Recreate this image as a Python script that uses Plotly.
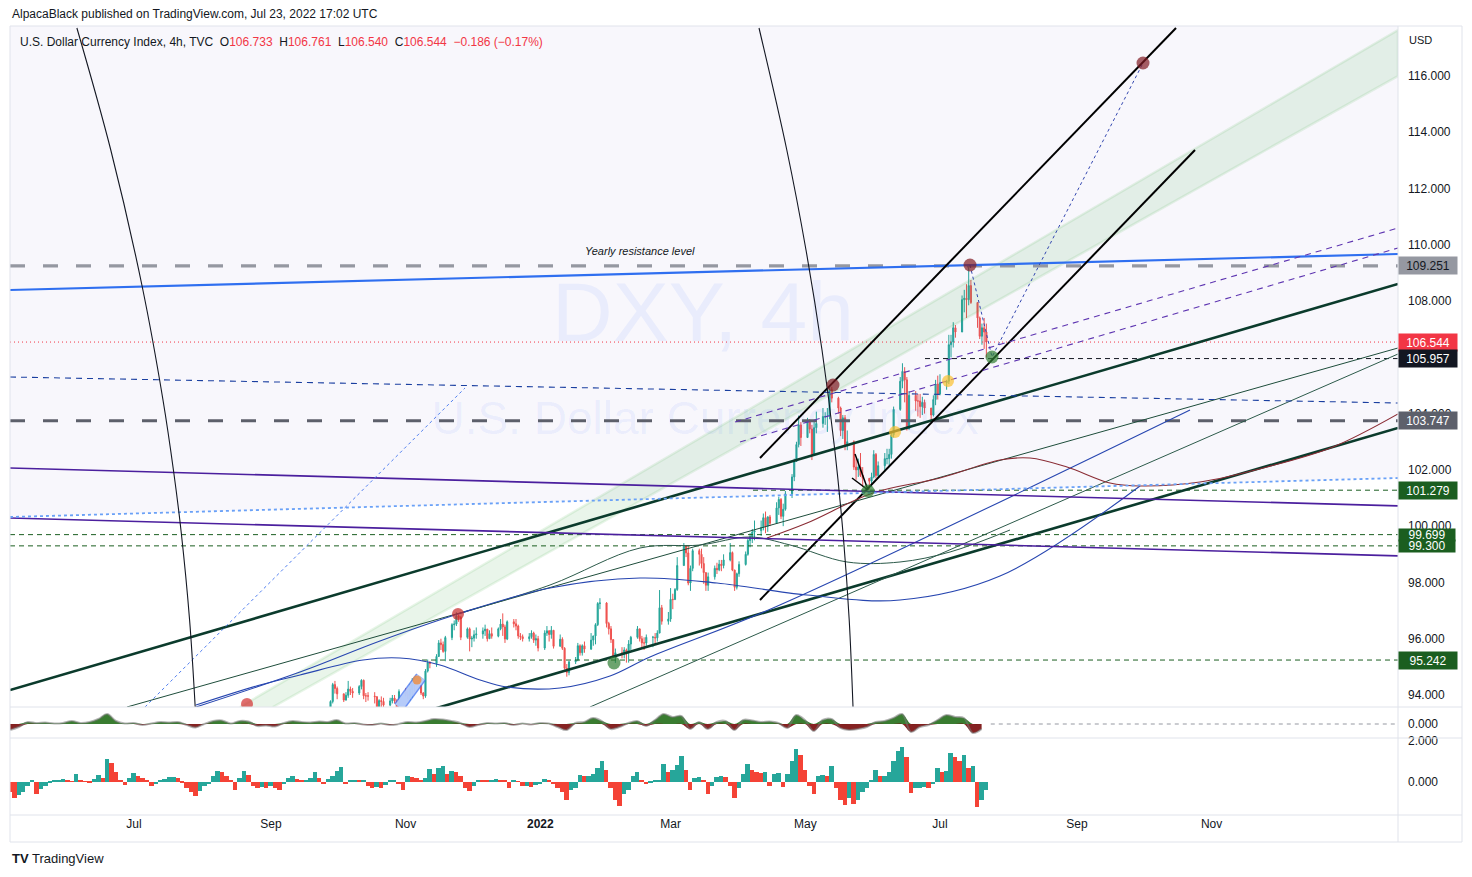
import plotly.graph_objects as go
import pandas as pd

BASE = pd.Timestamp("2021-07-01")
X_LEFT, X_RIGHT = -56.15, 572.41          # days from BASE at pane edges
Y_LOW, Y_HIGH = 93.573, 117.777

# ---------------- candle data (daily, Mon-Fri, from 2021-09-27) ----------------
candle_start = "2021-09-27"
close = [
    93.36, 93.77, 94.37, 94.23, 94.04,  93.82, 93.99, 94.21, 94.13, 94.07,
    94.30, 94.52, 93.97, 93.97, 93.96,  93.94, 93.55, 93.80, 93.77, 93.64,
    93.79, 93.89, 93.79, 93.32, 94.12,  94.03, 93.98, 94.20, 94.40, 94.34,
    94.07, 93.96, 94.85, 95.15, 95.12,  95.37, 95.85, 95.79, 95.55, 96.04,
    96.50, 96.52, 96.80, 96.76, 96.05,  96.35, 95.99, 96.02, 96.14, 96.17,
    96.28, 96.34, 96.00, 96.18, 96.09,  96.35, 96.52, 96.42, 95.99, 96.60,
    96.53, 96.45, 96.10, 96.07, 96.00,  96.07, 96.20, 95.95, 96.00, 95.67,
    96.20, 96.28, 96.15, 96.30, 95.73,  95.98, 95.66, 94.95, 94.80, 95.18,
    95.25, 95.75, 95.50, 95.75, 95.63,  95.95, 96.10, 96.50, 97.25, 97.27,
    96.54, 96.35, 95.97, 95.39, 95.50,  95.45, 95.60, 95.53, 95.81, 96.05,
    96.35, 96.00, 95.85, 95.85, 96.05,  96.05, 96.03, 96.20, 97.10, 96.62,
    96.70, 97.40, 97.39, 97.75, 98.60,  99.30, 99.05, 97.98, 98.50, 99.13,
    99.00, 98.67, 98.35, 97.90, 98.20,  98.50, 98.45, 98.65, 98.60, 98.80,
    99.06, 98.44, 97.83, 98.31, 98.64,  99.00, 99.49, 99.62, 99.79, 99.84,
    99.95, 100.30, 100.00, 100.33, 100.10,  100.65, 100.95, 100.35, 100.60, 101.15,
    101.75, 102.30, 102.90, 103.60, 103.15,  103.70, 103.45, 102.55, 103.50, 103.65,
    103.90, 103.90, 103.90, 104.85, 104.55,  104.20, 103.40, 103.85, 102.90, 103.00,
    102.10, 102.00, 102.10, 101.80, 101.70,  101.60, 101.75, 102.55, 101.80, 102.15,
    102.40, 102.40, 102.55, 103.25, 104.15,  105.15, 105.50, 105.20, 103.45, 104.65,
    104.45, 104.45, 104.25, 104.40, 104.20,  103.95, 104.50, 105.05, 104.70, 105.10,
    105.15, 106.45, 106.55, 107.05, 106.90,  108.05, 108.10, 108.05, 108.55, 107.95,
    107.40, 106.75, 107.05, 106.90, 106.544,
]
high = [
    93.45, 93.81, 94.43, 94.50, 94.30,  94.05, 94.10, 94.50, 94.30, 94.25,
    94.35, 94.56, 94.55, 94.07, 94.10,  94.10, 93.95, 93.85, 93.95, 93.90,
    93.90, 94.00, 94.00, 93.85, 94.20,  94.25, 94.15, 94.40, 94.60, 94.60,
    94.35, 94.10, 94.92, 95.26, 95.20,  95.45, 95.95, 96.00, 95.90, 96.10,
    96.55, 96.65, 96.94, 96.85, 96.80,  96.40, 96.40, 96.10, 96.30, 96.40,
    96.40, 96.50, 96.35, 96.30, 96.40,  96.40, 96.70, 96.90, 96.50, 96.65,
    96.70, 96.70, 96.50, 96.20, 96.15,  96.20, 96.30, 96.25, 96.15, 96.10,
    96.30, 96.45, 96.30, 96.45, 96.30,  96.15, 96.05, 95.70, 95.10, 95.20,
    95.35, 95.85, 95.80, 95.80, 95.90,  96.20, 96.10, 96.55, 97.30, 97.44,
    97.30, 96.60, 96.45, 95.97, 95.65,  95.70, 95.70, 95.65, 95.95, 96.10,
    96.45, 96.30, 96.10, 96.05, 96.15,  96.10, 96.20, 96.30, 97.73, 97.20,
    96.95, 97.80, 97.60, 97.80, 98.90,  99.40, 99.30, 99.30, 98.60, 99.20,
    99.20, 99.20, 98.90, 98.35, 98.35,  98.60, 98.70, 98.80, 98.80, 99.00,
    99.40, 99.10, 98.45, 98.35, 98.75,  99.10, 99.55, 99.75, 99.90, 100.20,
    100.20, 100.45, 100.52, 100.35, 100.40,  100.85, 101.05, 101.00, 100.80, 101.25,
    101.85, 102.40, 103.00, 103.93, 103.70,  103.85, 103.80, 103.60, 103.75, 104.07,
    104.20, 104.05, 104.20, 105.00, 104.95,  104.60, 104.25, 103.95, 103.95, 103.40,
    103.05, 102.40, 102.40, 102.60, 102.10,  101.70, 101.90, 102.70, 102.60, 102.30,
    102.60, 102.75, 102.75, 103.35, 104.25,  105.30, 105.79, 105.65, 105.30, 104.80,
    104.80, 104.70, 104.70, 104.60, 104.50,  104.20, 104.65, 105.20, 105.35, 105.40,
    105.20, 106.80, 106.80, 107.25, 107.15,  108.20, 108.40, 108.60, 109.29, 108.75,
    107.80, 107.45, 107.20, 107.40, 107.20,
]
low = [
    93.15, 93.30, 93.70, 94.05, 93.85,  93.75, 93.80, 93.90, 94.00, 93.90,
    94.00, 94.20, 93.85, 93.75, 93.80,  93.70, 93.50, 93.48, 93.55, 93.50,
    93.60, 93.70, 93.70, 93.28, 93.35,  93.95, 93.85, 93.80, 93.90, 94.10,
    94.00, 93.85, 93.90, 94.80, 94.95,  95.00, 95.35, 95.60, 95.50, 95.20,
    95.95, 96.30, 96.45, 96.60, 95.95,  96.00, 95.55, 95.70, 95.90, 96.00,
    96.00, 96.10, 95.90, 96.00, 96.00,  96.05, 96.30, 96.10, 95.85, 95.95,
    96.40, 96.30, 96.00, 95.95, 95.90,  95.90, 96.00, 95.85, 95.75, 95.55,
    95.60, 96.10, 95.90, 96.00, 95.65,  95.75, 95.60, 94.90, 94.65, 94.70,
    95.10, 95.20, 95.40, 95.40, 95.50,  95.60, 95.75, 95.80, 96.45, 97.05,
    96.40, 96.15, 95.85, 95.35, 95.14,  95.30, 95.30, 95.15, 95.15, 95.60,
    96.00, 95.90, 95.70, 95.60, 95.75,  95.70, 95.80, 95.90, 96.20, 96.50,
    96.50, 96.60, 97.05, 97.40, 97.70,  98.80, 98.90, 97.90, 97.70, 98.40,
    98.60, 98.50, 97.95, 97.70, 97.70,  98.10, 98.30, 98.40, 98.40, 98.50,
    98.75, 98.40, 97.70, 97.75, 98.20,  98.60, 98.95, 99.25, 99.40, 99.50,
    99.65, 99.85, 99.75, 99.80, 100.00,  100.20, 100.40, 100.25, 100.00, 100.55,
    101.00, 101.60, 102.30, 102.80, 102.85,  103.20, 103.30, 102.35, 102.50, 103.30,
    103.50, 103.60, 103.35, 103.80, 104.40,  104.00, 103.20, 103.10, 102.70, 102.70,
    102.00, 101.65, 101.75, 101.75, 101.40,  101.30, 101.40, 101.70, 101.70, 101.70,
    101.95, 102.20, 102.15, 102.40, 103.15,  104.10, 104.90, 104.40, 103.40, 103.50,
    104.10, 103.90, 103.85, 103.95, 104.00,  103.70, 103.90, 104.30, 104.50, 104.65,
    104.85, 105.05, 106.00, 106.35, 106.70,  107.10, 107.60, 107.40, 107.85, 107.90,
    107.05, 106.65, 106.45, 106.30, 106.00,
]
first_open = 93.22

# ---------------- lower pane histogram (2-day steps from left edge) ----------------
hist = [
    -0.5, -0.8, -0.65, -0.5, -0.2, 0.1, -0.6, -0.35, -0.2, -0.05,
    0.1, 0.12, 0.15, 0.05, 0.02, 0.4, 0.1, 0.02, -0.05, 0.15,
    0.35, 0.2, 1.1, 0.95, 0.5, 0.05, -0.15, 0.2, 0.45, 0.3,
    0.2, 0.1, -0.2, -0.1, 0.1, 0.15, 0.25, 0.25, 0.2, -0.05,
    -0.3, -0.5, -0.7, -0.45, -0.2, -0.1, 0.3, 0.55, 0.5, 0.3,
    0.05, -0.4, 0.2, 0.55, 0.35, -0.2, -0.3, -0.25, -0.3, -0.2,
    -0.3, -0.4, -0.1, 0.2, 0.3, 0.15, 0.05, 0.1, 0.2, 0.5,
    0.2, -0.1, 0.15, 0.3, 0.55, 0.75, -0.1, 0.05, 0.1, 0.08,
    0.1, -0.2, -0.3, -0.25, -0.3, -0.15, 0.1, 0.12, -0.1, -0.4,
    0.3, 0.25, 0.2, 0.1, 0.2, 0.65, 0.4, 0.7, 0.8, 0.4,
    0.55, 0.5, 0.3, -0.3, -0.45, -0.2, 0.1, 0.08, 0.05, 0.12,
    0.15, 0.1, 0.05, -0.3, 0.05, 0.02, -0.2, -0.2, -0.25, -0.15,
    -0.1, 0.15, 0.1, -0.1, -0.3, -0.5, -0.9, -0.4, -0.3, 0.35,
    0.3, 0.3, 0.4, 0.7, 1.0, 0.6, -0.3, -0.9, -1.15, -0.6,
    -0.4, 0.3, 0.5, 0.05, -0.1, -0.05, 0.05, 0.1, 0.9, 0.5,
    0.6, 0.85, 1.25, 0.6, -0.4, 0.2, 0.25, 0.1, -0.6, -0.2,
    0.25, 0.3, 0.25, -0.2, -0.8, -0.3, 0.4, 0.9, 0.6, 0.5,
    0.45, 0.5, -0.2, 0.4, 0.45, -0.25, 0.4, 1.0, 1.6, 1.3,
    0.6, -0.2, -0.6, 0.3, 0.35, 0.3, 0.8, -0.3, -0.9, -1.1,
    -0.8, -1.05, -0.9, -0.5, -0.3, 0.1, 0.6, 0.3, 0.3, 0.5,
    1.0, 1.5, 1.7, 1.2, -0.55, -0.3, -0.3, -0.25, -0.3, -0.1,
    0.7, 0.5, 0.55, 1.4, 1.2, 1.0, 1.3, 0.7, 0.8, -1.2,
    -0.9, -0.4,
]

# ---------------- upper small oscillator pane (4-day steps) ----------------
osc = [
    -0.6, -0.3, 0.2, 0.1, 0.15, 0.05, 0.1, 0.3, 0.1, 0.2,
    0.5, 1.0, 0.3, 0.05, 0.1, -0.1, 0.05, 0.2, 0.15, 0.2,
    -0.1, -0.35, 0.0, 0.3, 0.35, 0.05, 0.3, 0.25, -0.2, -0.15,
    -0.25, 0.1, 0.3, 0.2, 0.15, 0.25, 0.2, 0.4, 0.05, 0.1,
    -0.05, -0.1, 0.05, -0.1, 0.0, 0.2, 0.15, 0.3, 0.5, 0.45,
    0.3, 0.1, -0.3, -0.1, 0.1, 0.05, 0.1, -0.1, 0.05, -0.05,
    0.1, 0.05, -0.3, -0.6, 0.1, 0.2, 0.6, 0.3, -0.5, -0.3,
    0.1, 0.3, -0.2, 0.4, 1.0, 0.7, 0.8, -0.5, 0.2, -0.5,
    0.2, 0.3, -0.6, 0.4, 0.35, 0.2, 0.25, 0.1, -0.4, 0.9,
    0.4, -0.7, 0.4, 0.5, -0.4, -0.6, -0.5, -0.3, 0.2, 0.3,
    0.6, 1.0, -0.8, -0.3, -0.1, 0.4, 0.9, 0.7, 0.6, -0.9,
    -0.5,
]

# ---------------- drawings: (days from 2021-07-01, price) ----------------
drawings = {
    "blue_resist":   ([X_LEFT, X_RIGHT], [108.394, 109.674], "#2f6ff0", 2.2, "solid"),
    "thick_upper":   ([X_LEFT, X_RIGHT], [94.177, 108.607], "#0b3b2c", 2.6, "solid"),
    "thick_lower":   ([75.17, X_RIGHT], [92.12, 103.489], "#0b3b2c", 2.6, "solid"),
    "chan_upper":    ([283.49, 471.88], [102.423, 117.706], "#000000", 2.0, "solid"),
    "chan_lower":    ([283.49, 480.48], [97.376, 113.370], "#000000", 2.0, "solid"),
    "fork_a":        ([326.51, 332.40], [102.565, 101.286], "#000000", 1.5, "solid"),
    "fork_b":        ([325.15, 332.40], [101.712, 101.286], "#000000", 1.5, "solid"),
    "thin_g1":       ([-3.17, X_RIGHT], [93.573, 106.333], "#1e4d3b", 1.0, "solid"),
    "thin_g3":       ([206.50, X_RIGHT], [93.573, 106.119], "#2c5a4a", 1.0, "solid"),
    "s_curve":       ([146.73, 188.39, 229.15, 256.32, 278.96, 297.07, 322.89, 346.89, 369.53, 396.70],
                      [96.879, 97.909, 99.224, 99.331, 99.615, 99.331, 98.727, 98.727, 99.082, 99.864],
                      "#2c5a4a", 1.0, "solid"),
    "blue_sine":     ([28.08, 57.06, 75.17, 103.70, 120.46, 138.57, 156.69, 168.92, 192.92, 215.56, 233.67, 289.38, 478.22],
                      [93.644, 94.355, 94.710, 95.243, 95.314, 95.066, 94.533, 94.284, 94.249, 94.675, 95.350, 97.092, 104.129],
                      "#2746b0", 1.1, "solid"),
    "blue_curve2":   ([28.08, 75.17, 111.4, 146.73, 188.39, 229.15, 264.0, 304.77, 346.89, 392.17, 455.58],
                      [93.573, 94.817, 95.920, 96.879, 97.803, 98.158, 97.980, 97.554, 97.376, 98.230, 101.428],
                      "#2746b0", 1.1, "solid"),
    "brown_curve":   ([286.66, 304.77, 334.66, 365.00, 392.17, 405.76, 422.52, 441.99, 455.58, 482.75, 513.09, 542.98, X_RIGHT],
                      [99.580, 100.113, 101.179, 101.712, 102.352, 102.423, 102.103, 101.535, 101.428, 101.570, 102.103, 102.814, 103.987],
                      "#8a2c34", 1.1, "solid"),
    "purple_1":      ([X_LEFT, X_RIGHT], [102.068, 100.720], "#4b1f9e", 1.6, "solid"),
    "purple_2":      ([X_LEFT, X_RIGHT], [100.291, 98.944], "#4b1f9e", 1.6, "solid"),
    "dot_flat":      ([X_LEFT, X_RIGHT], [100.326, 101.712], "#6aa1f7", 1.8, "dot"),
    "dot_diag":      ([4.98, 149.89], [93.573, 104.911], "#4f7ef0", 1.0, "dot"),
    "dot_path":      ([378.59, 388.55, 456.94], [109.283, 106.013, 116.462], "#3347b0", 1.0, "dot"),
    "pdash_1":       ([272.17, X_RIGHT], [103.702, 110.598], "#5e35b1", 1.1, "6px,5px"),
    "pdash_2":       ([274.43, X_RIGHT], [102.992, 109.887], "#5e35b1", 1.1, "6px,5px"),
    "bdash_flat":    ([X_LEFT, X_RIGHT], [105.302, 104.378], "#1a3fa0", 1.1, "6px,5px"),
}
arc_a = ([-25.86, -10.51, 3.76, 13.13, 17.98, 21.42, 25.18, 27.72],
         [117.706, 113.370, 108.501, 104.485, 101.925, 99.757, 96.665, 93.573])
arc_b = ([283.04, 295.63, 304.32, 311.57, 317.36, 321.35, 323.89, 325.61],
         [117.706, 113.370, 109.816, 106.262, 102.707, 99.509, 96.665, 93.573])

# horizontal levels: (price, start day, color, width, dash)
levels = [
    (109.251, X_LEFT, "#9598a1", 3.2, "15px,18px"),
    (103.747, X_LEFT, "#5d606b", 3.2, "15px,18px"),
    (106.544, X_LEFT, "#f23645", 1.0, "1px,3px"),
    (105.957, 358.21, "#131722", 1.0, "5px,4px"),
    (101.279, 280.32, "#1b5e20", 1.0, "5px,4px"),
    (99.699, X_LEFT, "#1b5e20", 1.0, "5px,4px"),
    (99.300, X_LEFT, "#1b5e20", 1.0, "5px,4px"),
    (95.242, 130.43, "#1b5e20", 1.0, "5px,4px"),
]
box_prices = [109.251, 106.544, 105.957, 103.747, 101.279, 99.699, 99.300, 95.242]
box_bg = ["#9598a1", "#f23645", "#131722", "#5d606b", "#1b5e20", "#1b5e20", "#1b5e20", "#1b5e20"]
box_fg = ["#131722", "#ffffff", "#ffffff", "#ffffff", "#ffffff", "#ffffff", "#ffffff", "#ffffff"]
box_h = [15, 15, 15, 15, 15, 12, 12, 15]

band_days = [48.0, X_RIGHT, X_RIGHT, 62.95]
band_prices = [93.573, 117.635, 116.0, 93.573]
tint_days = [X_LEFT, X_RIGHT, X_RIGHT, X_LEFT]
tint_prices = [100.326, 101.712, Y_HIGH, Y_HIGH]

# markers: (day, price, color, size)
dots = [
    (378.59, 109.283, "#801922", 13), (316.55, 105.018, "#801922", 13),
    (456.94, 116.462, "#801922", 13), (146.73, 96.879, "#c62828", 12),
    (51.17, 93.680, "#d32f2f", 12), (388.55, 106.013, "#2e7d32", 13),
    (332.40, 101.250, "#2e7d32", 13), (217.37, 95.137, "#2e7d32", 13),
    (368.63, 105.160, "#fbc02d", 12), (344.63, 103.347, "#fbc02d", 12),
]
ellipse = ([120.01, 129.97], [93.573, 94.639])
orange_dot = (128.16, 94.533)

month_ticks = ["2021-07-01", "2021-09-01", "2021-11-01", "2022-01-01", "2022-03-01",
               "2022-05-01", "2022-07-01", "2022-09-01", "2022-11-01"]
month_text = ["Jul", "Sep", "Nov", "<b>2022</b>", "Mar", "May", "Jul", "Sep", "Nov"]
price_ticks = [94, 96, 98, 100, 102, 104, 106, 108, 110, 112, 114, 116]


def to_dates(days):
    return [BASE + pd.Timedelta(days=float(d)) for d in days]


FONT = "Liberation Sans, Arial, sans-serif"
fig = go.Figure()

# tinted region & green band
fig.add_trace(go.Scatter(x=to_dates(tint_days), y=tint_prices, fill="toself", mode="lines",
                         line=dict(width=0), fillcolor="rgba(103,58,183,0.045)", hoverinfo="skip"))
fig.add_trace(go.Scatter(x=to_dates(band_days), y=band_prices, fill="toself", mode="lines",
                         line=dict(width=2.5, color="rgba(76,175,80,0.13)"),
                         fillcolor="rgba(76,175,80,0.12)", hoverinfo="skip"))

# watermark
fig.add_trace(go.Scatter(x=to_dates([257.68]), y=[107.33], mode="text", text=["DXY, 4h"],
                         textfont=dict(size=84, color="rgba(41,98,255,0.07)", family=FONT), hoverinfo="skip"))
fig.add_trace(go.Scatter(x=to_dates([258.58]), y=[103.70], mode="text", text=["U.S. Dollar Currency Index"],
                         textfont=dict(size=46, color="rgba(41,98,255,0.07)", family=FONT), hoverinfo="skip"))

# candles
cdates = pd.bdate_range(candle_start, periods=len(close))
opens = [first_open] + close[:-1]
hi = [max(h, o, c) for h, o, c in zip(high, opens, close)]
lo = [min(l, o, c) for l, o, c in zip(low, opens, close)]
fig.add_trace(go.Candlestick(x=cdates, open=opens, high=hi, low=lo, close=close,
                             increasing=dict(line=dict(color="#26a69a", width=1), fillcolor="#26a69a"),
                             decreasing=dict(line=dict(color="#ef5350", width=1), fillcolor="#ef5350"),
                             whiskerwidth=0, hoverinfo="skip"))

# horizontal levels
for price, start, color, width, dash in levels:
    fig.add_trace(go.Scatter(x=to_dates([start, X_RIGHT]), y=[price, price], mode="lines",
                             line=dict(color=color, width=width, dash=dash), hoverinfo="skip"))

# drawings
for name, (d, p, color, width, dash) in drawings.items():
    fig.add_trace(go.Scatter(x=to_dates(d), y=p, mode="lines",
                             line=dict(color=color, width=width, dash=dash,
                                       shape="spline" if len(d) > 3 else "linear"),
                             hoverinfo="skip"))
for arc in (arc_a, arc_b):
    fig.add_trace(go.Scatter(x=to_dates(arc[0]), y=arc[1], mode="lines",
                             line=dict(color="#131722", width=1.1, shape="spline"), hoverinfo="skip"))

# ellipse highlight
fig.add_trace(go.Scatter(x=to_dates(ellipse[0]), y=ellipse[1], mode="lines",
                         line=dict(color="rgba(60,110,240,0.75)", width=12), hoverinfo="skip"))
fig.add_trace(go.Scatter(x=to_dates(ellipse[0]), y=ellipse[1], mode="lines",
                         line=dict(color="rgba(190,210,250,0.9)", width=9), hoverinfo="skip"))
fig.add_trace(go.Scatter(x=to_dates([orange_dot[0]]), y=[orange_dot[1]], mode="markers",
                         marker=dict(size=9, color="rgba(240,140,60,0.8)"), hoverinfo="skip"))

# dots
fig.add_trace(go.Scatter(x=to_dates([d[0] for d in dots]), y=[d[1] for d in dots], mode="markers",
                         marker=dict(size=[d[3] for d in dots], color=[d[2] for d in dots], line=dict(width=0)),
                         hoverinfo="skip"))

# oscillator pane
odates = [BASE + pd.Timedelta(days=X_LEFT + 4 * i) for i in range(len(osc))]
fig.add_trace(go.Scatter(x=[BASE + pd.Timedelta(days=388), BASE + pd.Timedelta(days=X_RIGHT)], y=[0, 0],
                         yaxis="y2", mode="lines", line=dict(color="#9598a1", width=1, dash="4px,4px"),
                         hoverinfo="skip"))
fig.add_trace(go.Scatter(x=odates, y=[max(v, 0) for v in osc], yaxis="y2", mode="lines", fill="tozeroy",
                         line=dict(width=0, shape="spline"), fillcolor="rgba(35,110,25,0.9)", hoverinfo="skip"))
fig.add_trace(go.Scatter(x=odates, y=[min(v, 0) for v in osc], yaxis="y2", mode="lines", fill="tozeroy",
                         line=dict(width=0, shape="spline"), fillcolor="rgba(120,10,10,0.9)", hoverinfo="skip"))
fig.add_trace(go.Scatter(x=odates, y=osc, yaxis="y2", mode="lines",
                         line=dict(width=2, color="rgba(120,120,120,0.55)", shape="spline"), hoverinfo="skip"))

# histogram pane
hdates = [BASE + pd.Timedelta(days=X_LEFT + 2 * i) for i in range(len(hist))]
hcolors = ["#26a69a" if (i > 0 and v >= hist[i - 1]) else "#f44336" for i, v in enumerate(hist)]
fig.add_trace(go.Bar(x=hdates, y=hist, yaxis="y3", marker=dict(color=hcolors, line=dict(width=0)),
                     width=2 * 86400000, hoverinfo="skip"))

# ---------------- layout ----------------
def py(px):   # pixel row -> paper y
    return (815 - px) / 789.0


def pxx(px):  # pixel col -> paper x
    return (px - 10) / 1388.0


annotations = [
    dict(text="AlpacaBlack published on TradingView.com, Jul 23, 2022 17:02 UTC", x=0, y=py(14),
         xref="paper", yref="paper", xanchor="left", yanchor="middle", showarrow=False,
         font=dict(size=12, color="#131722", family=FONT)),
    dict(text=("U.S. Dollar Currency Index, 4h, TVC\u00a0\u00a0O<span style='color:#f23645'>106.733</span>"
               "\u00a0\u00a0H<span style='color:#f23645'>106.761</span>"
               "\u00a0\u00a0L<span style='color:#f23645'>106.540</span>"
               "\u00a0\u00a0C<span style='color:#f23645'>106.544</span>"
               "\u00a0\u00a0<span style='color:#f23645'>\u22120.186 (\u22120.17%)</span>"),
         x=pxx(18), y=py(42), xref="paper", yref="paper", xanchor="left", yanchor="middle", showarrow=False,
         font=dict(size=12, color="#131722", family=FONT)),
    dict(text="USD", x=1, xshift=9, y=py(40), xref="paper", yref="paper", xanchor="left", yanchor="middle",
         showarrow=False, font=dict(size=11, color="#131722", family=FONT)),
    dict(text="<i>Yearly resistance level</i>", x=BASE + pd.Timedelta(days=229.15), y=109.78,
         xref="x", yref="y", showarrow=False, font=dict(size=11, color="#131722", family=FONT)),
    dict(text="<b>TV</b> TradingView", x=0, y=py(858), xref="paper", yref="paper", xanchor="left",
         yanchor="middle", showarrow=False, font=dict(size=13, color="#131722", family=FONT)),
]
for price, bg, fg, h in zip(box_prices, box_bg, box_fg, box_h):
    annotations.append(dict(text="%.3f" % price, x=1, xshift=0, y=price, xref="paper", yref="y",
                            xanchor="left", yanchor="middle", showarrow=False, bgcolor=bg, width=56,
                            height=h, borderpad=1 if h > 12 else 0,
                            font=dict(size=12, color=fg, family=FONT)))

border = "#e0e3eb"
shapes = [
    dict(type="rect", xref="paper", yref="paper", x0=0, x1=pxx(1462), y0=py(842), y1=py(26),
         line=dict(color=border, width=1)),
    dict(type="line", xref="paper", yref="paper", x0=1, x1=1, y0=py(842), y1=py(26),
         line=dict(color=border, width=1)),
]
for yy in (707, 738, 815):
    shapes.append(dict(type="line", xref="paper", yref="paper", x0=0, x1=pxx(1462), y0=py(yy), y1=py(yy),
                       line=dict(color=border, width=1)))

fig.update_layout(
    width=1472, height=877, margin=dict(l=10, r=74, t=26, b=62),
    paper_bgcolor="#ffffff", plot_bgcolor="#ffffff", showlegend=False,
    font=dict(family=FONT, size=12, color="#131722"),
    xaxis=dict(type="date", range=[BASE + pd.Timedelta(days=X_LEFT), BASE + pd.Timedelta(days=X_RIGHT)],
               anchor="y3", tickvals=month_ticks, ticktext=month_text, showgrid=False, zeroline=False,
               showline=False, ticks="", rangeslider=dict(visible=False), tickfont=dict(size=12, color="#131722")),
    yaxis=dict(domain=[py(707), 1], range=[Y_LOW, Y_HIGH], side="right", tickvals=price_ticks,
               ticktext=["%.3f" % v for v in price_ticks], showgrid=False, zeroline=False, ticks="",
               ticklabelstandoff=9, tickfont=dict(size=12, color="#131722")),
    yaxis2=dict(domain=[py(738), py(707)], range=[-1.4, 1.7], side="right", tickvals=[0], ticktext=["0.000"],
                showgrid=False, zeroline=False, ticks="", ticklabelstandoff=9, anchor="x",
                tickfont=dict(size=12, color="#131722")),
    yaxis3=dict(domain=[0, py(738)], range=[-1.61, 2.146], side="right", tickvals=[0, 2],
                ticktext=["0.000", "2.000"], showgrid=False, zeroline=False, ticks="", ticklabelstandoff=9,
                anchor="x", tickfont=dict(size=12, color="#131722")),
    annotations=annotations, shapes=shapes, bargap=0,
)
fig.update_traces(showlegend=False)
fig.write_html("out.html", config={"displayModeBar": False},
               post_script="document.body.style.margin='0';document.body.style.padding='0';")
